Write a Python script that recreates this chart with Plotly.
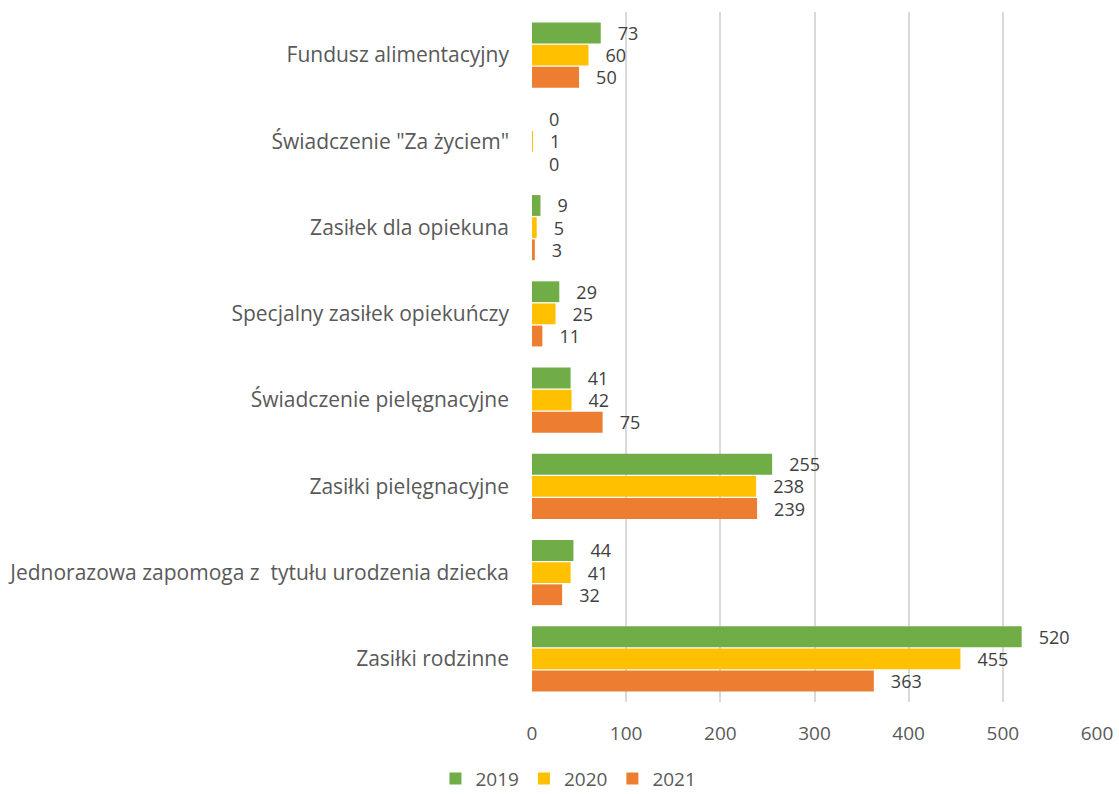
import plotly.graph_objects as go

categories = [
    "Zasiłki rodzinne",
    "Jednorazowa zapomoga z  tytułu urodzenia dziecka",
    "Zasiłki pielęgnacyjne",
    "Świadczenie pielęgnacyjne",
    "Specjalny zasiłek opiekuńczy",
    "Zasiłek dla opiekuna",
    "Świadczenie \"Za życiem\"",
    "Fundusz alimentacyjny",
]
values_2019 = [520, 44, 255, 41, 29, 9, 0, 73]
values_2020 = [455, 41, 238, 42, 25, 5, 1, 60]
values_2021 = [363, 32, 239, 75, 11, 3, 0, 50]

series = [
    ("2021", values_2021, "#ed7d31"),
    ("2020", values_2020, "#ffc000"),
    ("2019", values_2019, "#70ad47"),
]

font = "Open Sans, Noto Sans, sans-serif"

fig = go.Figure()
for name, vals, color in series:
    fig.add_trace(go.Bar(
        name=name,
        y=categories,
        x=vals,
        orientation="h",
        marker=dict(color=color, line=dict(width=0)),
        text=vals,
        texttemplate="   %{x}",
        textposition="outside",
        constraintext="none",
        cliponaxis=False,
        textfont=dict(size=18, color="#404040", family=font),
    ))

fig.update_layout(
    width=1119,
    height=794,
    barmode="group",
    bargap=0.23,
    bargroupgap=0.06,
    paper_bgcolor="white",
    plot_bgcolor="white",
    margin=dict(l=532, r=22, t=12, b=92, autoexpand=False),
    font=dict(family=font, size=19, color="#595959"),
    legend=dict(
        orientation="h",
        traceorder="reversed",
        x=0.508, xanchor="center", xref="container",
        y=-0.111, yanchor="middle",
        font=dict(size=19, color="#595959"),
        itemwidth=30,
    ),
    showlegend=True,
)
fig.update_xaxes(
    range=[0, 600],
    dtick=100,
    automargin=False,
    showgrid=True,
    gridcolor="#d9d9d9",
    gridwidth=1.5,
    zeroline=False,
    showline=False,
    ticklabelstandoff=18,
    tickfont=dict(size=19, color="#595959"),
)
fig.update_yaxes(
    automargin=False,
    showgrid=False,
    showline=False,
    ticklabelstandoff=22,
    tickfont=dict(size=21, color="#595959"),
)

# drop the default body margin so the figure fills the window exactly
fig.write_html(
    "out.html",
    config={"displayModeBar": False},
    post_script="document.body.style.margin = '0';",
)
